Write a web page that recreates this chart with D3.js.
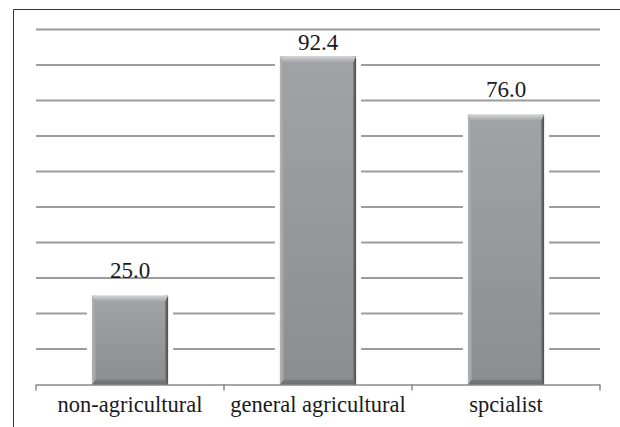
<!DOCTYPE html>
<html>
<head>
<meta charset="utf-8">
<script src="https://cdn.jsdelivr.net/npm/d3@7/dist/d3.min.js"></script>
<style>
  html, body { margin: 0; padding: 0; background: #fff; }
  svg { display: block; }
</style>
</head>
<body>
<svg id="chart" width="620" height="427"></svg>
<script>
// Farm type categories and their values
const categories = ["non-agricultural", "general agricultural", "spcialist"];
const values = [25.0, 92.4, 76.0];
const gridTicks = [10, 20, 30, 40, 50, 60, 70, 80, 90, 100];

const W = 620, H = 427;
const plot = { left: 36, right: 600, top: 29.5, bottom: 384.5 };
const FONT = '"Times New Roman"';

const svg = d3.select("#chart");

// Outer frame (left and top edges)
svg.append("path")
  .attr("d", `M13.5,${H} L13.5,9.5 L${W},9.5`)
  .attr("fill", "none").attr("stroke", "#333").attr("stroke-width", 1);

const x = d3.scaleBand().domain(categories).range([plot.left, plot.right]).padding(0);
const y = d3.scaleLinear().domain([0, 100]).range([plot.bottom, plot.top]);
const barW = x.bandwidth() * 0.405;
const rows = categories.map((c, i) => ({ c, v: values[i] }));

// Gradients for the bevelled bars
const defs = svg.append("defs");
function vGrad(id, from, to, horizontal) {
  const g = defs.append("linearGradient").attr("id", id)
    .attr("x1", 0).attr("y1", 0).attr("x2", horizontal ? 1 : 0).attr("y2", horizontal ? 0 : 1);
  g.append("stop").attr("offset", "0%").attr("stop-color", from);
  g.append("stop").attr("offset", "100%").attr("stop-color", to);
}
vGrad("barFill", "#a2a3a6", "#8c8d90", false);
vGrad("barTop", "#d2d3d5", "#a2a3a6", false);
vGrad("barLeft", "#b4b5b8", "#9c9da0", true);
vGrad("barRight", "#7a7b7e", "#4a4b4d", true);
vGrad("barBot", "#7d7e81", "#6a6b6e", false);

// Horizontal gridlines
svg.append("g").selectAll("line").data(gridTicks).join("line")
  .attr("x1", plot.left).attr("x2", plot.right)
  .attr("y1", d => y(d)).attr("y2", d => y(d))
  .attr("stroke", "#9c9c9c").attr("stroke-width", 2);

// Category axis with ticks at band boundaries
svg.append("line")
  .attr("x1", plot.left).attr("x2", plot.right)
  .attr("y1", plot.bottom + 0.5).attr("y2", plot.bottom + 0.5)
  .attr("stroke", "#8a8a8a").attr("stroke-width", 1.5);
const bounds = categories.map(c => x(c)).concat([plot.right]);
svg.append("g").selectAll("line").data(bounds).join("line")
  .attr("x1", d => d).attr("x2", d => d)
  .attr("y1", plot.bottom).attr("y2", plot.bottom + 6)
  .attr("stroke", "#8a8a8a").attr("stroke-width", 1.5);

// Bars
const bars = svg.append("g").selectAll("g").data(rows).join("g")
  .attr("transform", d => `translate(${x(d.c) + (x.bandwidth() - barW) / 2},${y(d.v)})`);
const hgt = d => plot.bottom - y(d.v);

// white halo that breaks the gridlines around each bar
bars.append("rect")
  .attr("x", -5).attr("y", -5)
  .attr("width", barW + 10).attr("height", d => hgt(d) + 4)
  .attr("fill", "#fff");
bars.append("rect")
  .attr("width", barW).attr("height", hgt)
  .attr("fill", "url(#barFill)");
bars.append("rect")
  .attr("width", 4).attr("height", hgt)
  .attr("fill", "url(#barLeft)");
bars.append("rect")
  .attr("x", barW - 3).attr("width", 3).attr("height", hgt)
  .attr("fill", "url(#barRight)");
bars.append("path")
  .attr("d", `M0,0 L${barW},0 L${barW - 3},6 L4,6 Z`)
  .attr("fill", "url(#barTop)");
bars.append("path")
  .attr("d", d => `M4,${hgt(d) - 5} L${barW - 3},${hgt(d) - 5} L${barW},${hgt(d)} L0,${hgt(d)} Z`)
  .attr("fill", "url(#barBot)");

// Category labels
svg.selectAll("text.cat").data(categories).join("text")
  .attr("class", "cat")
  .attr("x", d => x(d) + x.bandwidth() / 2)
  .attr("y", 411.5)
  .attr("text-anchor", "middle")
  .style("font-family", FONT)
  .attr("font-size", 22.5)
  .attr("fill", "#1a1a1a")
  .text(d => d);

// Value labels above the bars, kept inside the plot area
svg.selectAll("text.val").data(rows).join("text")
  .attr("class", "val")
  .attr("x", d => x(d.c) + x.bandwidth() / 2)
  .attr("y", d => Math.max(y(d.v) - 18, y(100) + 20))
  .attr("text-anchor", "middle")
  .style("font-family", FONT)
  .attr("font-size", 23)
  .attr("fill", "#1a1a1a")
  .text(d => d.v.toFixed(1));
</script>
</body>
</html>
